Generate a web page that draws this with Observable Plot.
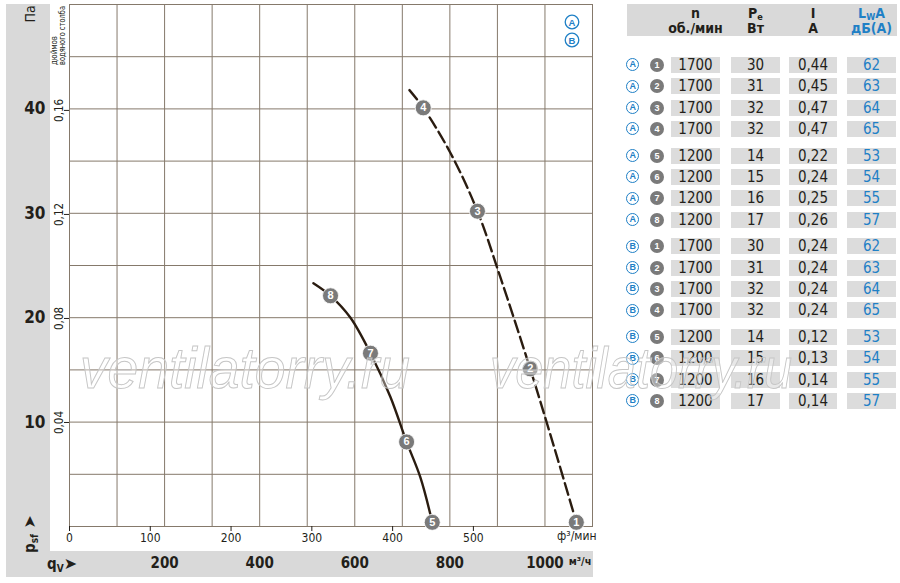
<!DOCTYPE html>
<html><head><meta charset="utf-8">
<script src="https://cdn.jsdelivr.net/npm/d3@7"></script>
<script src="https://cdn.jsdelivr.net/npm/@observablehq/plot@0.6"></script>
<style>
body{margin:0;background:#fff;}
#wrap{position:relative;width:900px;height:583px;overflow:hidden;font-family:"Liberation Sans Narrow","DejaVu Sans Condensed","Liberation Sans",sans-serif;color:#231f1a;}
.band{position:absolute;background:#d9d9d9;}
#chart{position:absolute;left:0;top:0;}
.cell{position:absolute;height:16px;line-height:16px;background:#dcdcdc;text-align:center;font-size:15px;color:#231f1a;}
.blue{color:#1f80c6;}
.hd{position:absolute;text-align:center;font-weight:bold;font-size:14px;line-height:15px;width:70px;}
.lc{position:absolute;width:11px;height:11px;border:1.3px solid #1f80c6;border-radius:50%;color:#1f80c6;font-size:9px;font-weight:bold;line-height:11px;text-align:center;background:#fff;font-family:"Liberation Sans",sans-serif;}
.nc{position:absolute;width:14px;height:14px;border-radius:50%;background:#7a7a7a;color:#fff;font-size:9px;font-weight:bold;line-height:14px;text-align:center;font-family:"Liberation Sans",sans-serif;}
#over{position:absolute;left:0;top:0;pointer-events:none;}
sub{font-size:65%;vertical-align:-2px;line-height:0;}
</style>
</head><body>
<div id="wrap">
  <div class="band" style="left:6px;top:4px;width:44px;height:548px;"></div>
  <div class="band" style="left:6px;top:551px;width:587px;height:26px;"></div>
  <div class="band" style="left:627px;top:4px;width:270px;height:32px;"></div>
  <div id="chart"></div>
  <div id="table"></div>
  <svg id="over" width="900" height="583"></svg>
</div>
<script>
// ---- data ----
const curveAFlow = [513, 549, 591, 633, 675, 709, 738, 763];        // m³/h, 1200 rpm (solid)
const curveAPress = [23.3, 22.1, 20.0, 16.6, 12.4, 8.1, 4.7, 0.4];   // Pa
const curveBFlow = [715, 744, 801, 858, 906, 969, 1018, 1066];       // m³/h, 1700 rpm (dashed)
const curveBPress = [41.8, 40.1, 35.8, 30.2, 23.9, 15.1, 7.8, 0.4];  // Pa
const pointIds = [8, 7, 6, 5, 4, 3, 2, 1];
const pointFlow = [549, 633, 709, 763, 744, 858, 969, 1066];
const pointPress = [22.1, 16.6, 8.1, 0.4, 40.1, 30.2, 15.1, 0.4];

const paTicks = [10, 20, 30, 40];
const inchTicks = [0.04, 0.08, 0.12, 0.16];
const cfmTicks = [0, 100, 200, 300, 400, 500];
const m3hTicks = [200, 400, 600, 800, 1000];

const rowVariant = ["A","A","A","A","A","A","A","A","B","B","B","B","B","B","B","B"];
const rowPoint = [1,2,3,4,5,6,7,8,1,2,3,4,5,6,7,8];
const rowRpm = [1700,1700,1700,1700,1200,1200,1200,1200,1700,1700,1700,1700,1200,1200,1200,1200];
const rowPower = [30,31,32,32,14,15,16,17,30,31,32,32,14,15,16,17];
const rowCurrent = ["0,44","0,45","0,47","0,47","0,22","0,24","0,25","0,26","0,24","0,24","0,24","0,24","0,12","0,13","0,14","0,14"];
const rowLwA = [62,63,64,65,53,54,55,57,62,63,64,65,53,54,55,57];

// ---- chart ----
const PA = 249.089, M3H = 1.69901;
const font = '"Liberation Sans Narrow","DejaVu Sans Condensed","Liberation Sans",sans-serif';
const gridColor = "#85796b";
const ink = "#2a1c10";
const curveA = curveAFlow.map((q, i) => ({q, p: curveAPress[i]}));
const curveB = curveBFlow.map((q, i) => ({q, p: curveBPress[i]}));
const pts = pointIds.map((id, i) => ({id, q: pointFlow[i], p: pointPress[i]}));

const chart = Plot.plot({
  width: 610, height: 583,
  marginLeft: 69, marginRight: 18, marginTop: 4, marginBottom: 57,
  x: {domain: [0, 1100]},
  y: {domain: [0, 50]},
  style: {background: "transparent", fontFamily: font, color: "#231f1a"},
  marks: [
    Plot.gridX({ticks: d3.range(0, 1101, 100), stroke: gridColor, strokeOpacity: 1}),
    Plot.gridY({ticks: d3.range(0, 51, 5), stroke: gridColor, strokeOpacity: 1}),
    Plot.frame({stroke: gridColor}),
    Plot.axisX({ticks: cfmTicks.map(c => c * M3H), tickFormat: d => String(Math.round(d / M3H)), tickSize: 5, tickPadding: 2, fontSize: 12, label: null}),
    Plot.axisX({ticks: m3hTicks, tickFormat: d => String(d), tickSize: 0, tickPadding: 31, fontSize: 15, fontWeight: "bold", label: null}),
    Plot.axisY({ticks: paTicks, tickFormat: d => String(d), tickSize: 0, tickPadding: 24, fontSize: 17, fontWeight: "bold", label: null}),
    Plot.axisY({ticks: inchTicks.map(v => v * PA), tickFormat: d => (d / PA).toFixed(2).replace(".", ","), tickSize: 5, tickPadding: 2, tickRotate: -90, fontSize: 11.5, label: null}),
    Plot.text(["ф³/мин"], {text: d => d, frameAnchor: "bottom-right", textAnchor: "end", dx: 4, dy: 13, fontSize: 12}),
    Plot.text(["м³/ч"], {text: d => d, frameAnchor: "bottom-right", textAnchor: "end", dx: -1, dy: 38, fontSize: 11, fontWeight: "bold"}),
    Plot.line(curveA, {x: "q", y: "p", curve: "catmull-rom", stroke: ink, strokeWidth: 2.4}),
    Plot.line(curveB, {x: "q", y: "p", curve: "catmull-rom", stroke: ink, strokeWidth: 2.4, strokeDasharray: "12,5"}),
    Plot.dot(pts, {x: "q", y: "p", r: 8, fill: "#7a7a7a", stroke: "#fff", strokeWidth: 0.8}),
    Plot.text(pts, {x: "q", y: "p", text: d => String(d.id), fill: "#fff", fontWeight: "bold", fontSize: 11, fontFamily: "Liberation Sans, sans-serif"})
  ]
});
document.getElementById("chart").append(chart);

// ---- table ----
const table = document.getElementById("table");
const cols = [
  {left: 671, w: 49, vals: rowRpm, cls: ""},
  {left: 731, w: 49, vals: rowPower, cls: ""},
  {left: 789, w: 48, vals: rowCurrent, cls: ""},
  {left: 847, w: 49, vals: rowLwA, cls: "blue"}
];
const headers = ["n<br>об./мин", "P<sub>e</sub><br>Вт", "I<br>A", "L<sub>W</sub>A<br>дБ(A)"];
headers.forEach((h, j) => {
  const d = document.createElement("div");
  d.className = "hd" + (j === 3 ? " blue" : "");
  d.style.left = (cols[j].left + cols[j].w / 2 - 35) + "px";
  d.style.top = "6px";
  d.innerHTML = h;
  table.append(d);
});
rowRpm.forEach((_, i) => {
  const cy = 65 + i * 21.33 + Math.floor(i / 4) * 5.4;
  const lc = document.createElement("div");
  lc.className = "lc"; lc.textContent = rowVariant[i];
  lc.style.left = (633 - 6.8) + "px"; lc.style.top = (cy - 6.8) + "px";
  table.append(lc);
  const nc = document.createElement("div");
  nc.className = "nc"; nc.textContent = rowPoint[i];
  nc.style.left = (657 - 7) + "px"; nc.style.top = (cy - 7) + "px";
  table.append(nc);
  cols.forEach(c => {
    const d = document.createElement("div");
    d.className = "cell " + c.cls;
    d.style.left = c.left + "px"; d.style.width = c.w + "px"; d.style.top = (cy - 8) + "px";
    d.textContent = c.vals[i];
    table.append(d);
  });
});

// ---- decorations ----
const svg = d3.select("#over");
svg.append("text").attr("transform", "translate(35,14) rotate(-90)").attr("text-anchor", "middle")
  .attr("font-family", font).attr("font-size", 14).attr("fill", "#231f1a").text("Па");
const t2 = svg.append("text").attr("transform", "translate(57,65) rotate(-90)")
  .attr("font-family", font).attr("font-size", 8.5).attr("fill", "#231f1a");
t2.append("tspan").attr("x", 0).attr("dy", 0).attr("textLength", 29).attr("lengthAdjust", "spacingAndGlyphs").text("дюймов");
t2.append("tspan").attr("x", 0).attr("dy", 8).attr("textLength", 59).attr("lengthAdjust", "spacingAndGlyphs").text("водяного столба");
const ps = svg.append("text").attr("transform", "translate(35,553) rotate(-90)")
  .attr("font-family", font).attr("font-size", 15).attr("font-weight", "bold").attr("fill", "#231f1a");
ps.append("tspan").text("p");
ps.append("tspan").attr("font-size", 10).attr("dy", 3).text("sf");
ps.append("tspan").attr("dy", -3).attr("font-family", "DejaVu Sans").attr("font-size", 16).text(" ➤");
const qv = svg.append("text").attr("x", 47).attr("y", 569)
  .attr("font-family", font).attr("font-size", 15).attr("font-weight", "bold").attr("fill", "#231f1a");
qv.append("tspan").text("q");
qv.append("tspan").attr("font-size", 10).attr("dy", 3).text("V");
qv.append("tspan").attr("dy", -3).attr("font-family", "DejaVu Sans").attr("font-size", 16).text("➤");
[["A", 22], ["B", 40]].forEach(([l, y]) => {
  svg.append("circle").attr("cx", 572).attr("cy", y).attr("r", 6.8).attr("fill", "#fff").attr("stroke", "#1f80c6").attr("stroke-width", 1.3);
  svg.append("text").attr("x", 572).attr("y", y + 3.5).attr("text-anchor", "middle").attr("font-family", "Liberation Sans, sans-serif")
    .attr("font-size", 9.5).attr("font-weight", "bold").attr("fill", "#1f80c6").text(l);
});
[[80, 330], [490, 302]].forEach(([x, w]) => {
  svg.append("text").attr("x", x).attr("y", 388).attr("textLength", w).attr("lengthAdjust", "spacingAndGlyphs")
    .attr("font-family", "Liberation Sans, sans-serif").attr("font-style", "italic").attr("font-size", 58)
    .attr("fill", "#fff").attr("fill-opacity", 0.35).attr("stroke", "#c6c6c6").attr("stroke-width", 1).text("ventilatorry.ru");
});
</script>
</body></html>
